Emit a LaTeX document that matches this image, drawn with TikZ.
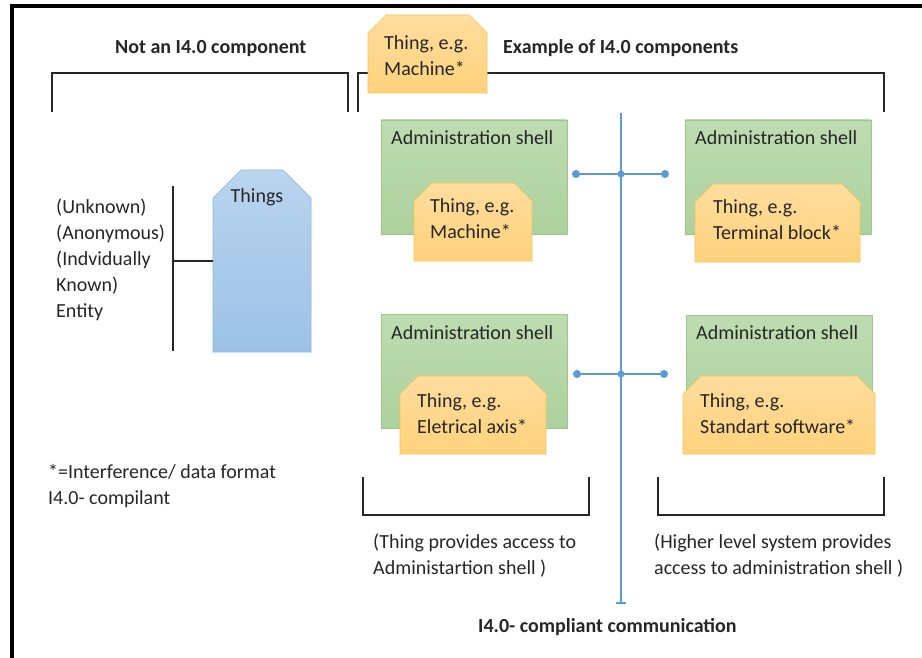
\documentclass[tikz,border=0pt]{standalone}
\usepackage{fontspec}
\setmainfont{Carlito}
\usetikzlibrary{shapes.misc,arrows.meta,fit}

\definecolor{ink}{HTML}{262626}
\definecolor{shelltop}{HTML}{BEDCB1}
\definecolor{shellbot}{HTML}{ADD19D}
\definecolor{shelledge}{HTML}{9CC68A}
\definecolor{thingtop}{HTML}{FFDD9E}
\definecolor{thingbot}{HTML}{FFD27C}
\definecolor{thingedge}{HTML}{F3C45A}
\definecolor{bluetop}{HTML}{B9D4EE}
\definecolor{bluebot}{HTML}{9DC2E5}
\definecolor{blueedge}{HTML}{8DB6DE}
\definecolor{busblue}{HTML}{5B9BD5}

% rows of left-aligned text whose anchor is the first baseline
\newcommand{\txtlines}[1]{\begin{tabular}[t]{@{}l@{}}#1\end{tabular}}

\tikzset{
  txt/.style={anchor=base west, inner sep=0pt, text=ink,
    font=\fontsize{20}{26}\selectfont},
  title/.style={txt, font=\fontsize{20}{26}\selectfont\bfseries},
  shellbox/.style={rectangle, draw=shelledge, line width=0.7pt,
    top color=shelltop, bottom color=shellbot, inner sep=0pt},
  % the chamfer is added outside the fitted box, so inner sep takes it back
  thingbox/.style={chamfered rectangle,
    chamfered rectangle corners={north west,north east},
    chamfered rectangle xsep=9pt, chamfered rectangle ysep=9pt,
    draw=thingedge, line width=0.7pt,
    top color=thingtop, bottom color=thingbot, inner sep=-9pt},
  entitybox/.style={chamfered rectangle,
    chamfered rectangle corners={north west,north east},
    chamfered rectangle xsep=14pt, chamfered rectangle ysep=14pt,
    draw=blueedge, line width=0.7pt,
    top color=bluetop, bottom color=bluebot, inner sep=-14pt},
  brk/.style={draw=ink, line width=1.8pt},
  bus/.style={draw=busblue, line width=2pt},
  busdot/.style={circle, fill=busblue, inner sep=0pt, minimum size=8pt},
  frame/.style={draw=black, line width=4.5pt, line join=miter}
}

\begin{document}
\begin{tikzpicture}[x=1pt,y=-1pt]
\useasboundingbox (0,0) rectangle (922,658);

% outer frame (left and top edges)
\draw[frame] (12,660) -- (12,6) -- (924,6);

% section titles
\node[title] (tNot) at (115,54) {Not an I4.0 component};
\node[title] (tEx) at (503,54) {Example of I4.0 components};

% upper brackets
\draw[brk] (52,112) -- (52,73) -- (348,73) -- (348,112);
\draw[brk] (358,112) -- (358,73) -- (884,73) -- (884,112);

% thing standing alone above the bracket
\node[thingbox, fit={(368,15) (487,93)}] (thingTop) {};
\node[txt] (thingTopTxt) at (384,50) {\txtlines{Thing, e.g.\\Machine*}};

% entity list and the "Things" block
\node[txt] (entity) at (56,214) {\txtlines{(Unknown)\\(Anonymous)\\(Indvidually\\Known)\\Entity}};
\coordinate (barTop) at (173,186);
\coordinate (barBot) at (173,351);
\coordinate (barMid) at (173,261);
\draw[brk] (barTop) -- (barBot);
\node[entitybox, fit={(213,170) (311,352)}] (things) {};
\node[txt, anchor=base] (thingsTxt) at (257,203) {Things};
\draw[brk] (barMid) -- (things.west);

% administration shells
\node[shellbox, fit={(381,120) (567,234)}] (shellTL) {};
\node[shellbox, fit={(685,120) (871,234)}] (shellTR) {};
\node[shellbox, fit={(381,314) (567,428)}] (shellBL) {};
\node[shellbox, fit={(686,315) (872,429)}] (shellBR) {};
\node[txt] (shellTLTxt) at (391,145) {Administration shell};
\node[txt] (shellTRTxt) at (695,145) {Administration shell};
\node[txt] (shellBLTxt) at (391,339) {Administration shell};
\node[txt] (shellBRTxt) at (696,339) {Administration shell};

% things inside the shells
\node[thingbox, fit={(414,183) (532,261)}] (thingTL) {};
\node[thingbox, fit={(695,184) (860,262)}] (thingTR) {};
\node[thingbox, fit={(400,376) (546,454)}] (thingBL) {};
\node[thingbox, fit={(683,376) (875,454)}] (thingBR) {};
\node[txt] (thingTLTxt) at (430,213) {\txtlines{Thing, e.g.\\Machine*}};
\node[txt] (thingTRTxt) at (713,214) {\txtlines{Thing, e.g.\\Terminal block*}};
\node[txt] (thingBLTxt) at (417,407) {\txtlines{Thing, e.g.\\Eletrical axis*}};
\node[txt] (thingBRTxt) at (700,407) {\txtlines{Thing, e.g.\\Standart software*}};

% communication bus
\coordinate (busTop) at (621,113);
\coordinate (busBot) at (621,604);
\draw[bus, -{Bar[width=10pt,line width=1.6pt]}] (busTop) -- (busBot);
\node[busdot] (dotUL) at (576,174) {};
\node[busdot, minimum size=7pt] (dotUJ) at (621,174) {};
\node[busdot] (dotUR) at (665,174) {};
\node[busdot] (dotLL) at (577,374) {};
\node[busdot, minimum size=7pt] (dotLJ) at (621,374) {};
\node[busdot] (dotLR) at (664,374) {};
\draw[bus] (dotUL.center) -- (dotUJ.center) -- (dotUR.center);
\draw[bus] (dotLL.center) -- (dotLJ.center) -- (dotLR.center);

% footnote
\node[txt] (note) at (48,478) {\txtlines{*=Interference/ data format\\I4.0- compilant}};

% lower brackets and captions
\draw[brk] (363,477) -- (363,515) -- (589,515) -- (589,477);
\draw[brk] (658,477) -- (658,515) -- (884,515) -- (884,477);
\node[txt] (capL) at (373,548) {\txtlines{(Thing provides access to\\Administartion shell )}};
\node[txt] (capR) at (654,548) {\txtlines{(Higher level system provides\\access to administration shell )}};

\node[title] (tComm) at (478,632) {I4.0- compliant communication};
\end{tikzpicture}
\end{document}
